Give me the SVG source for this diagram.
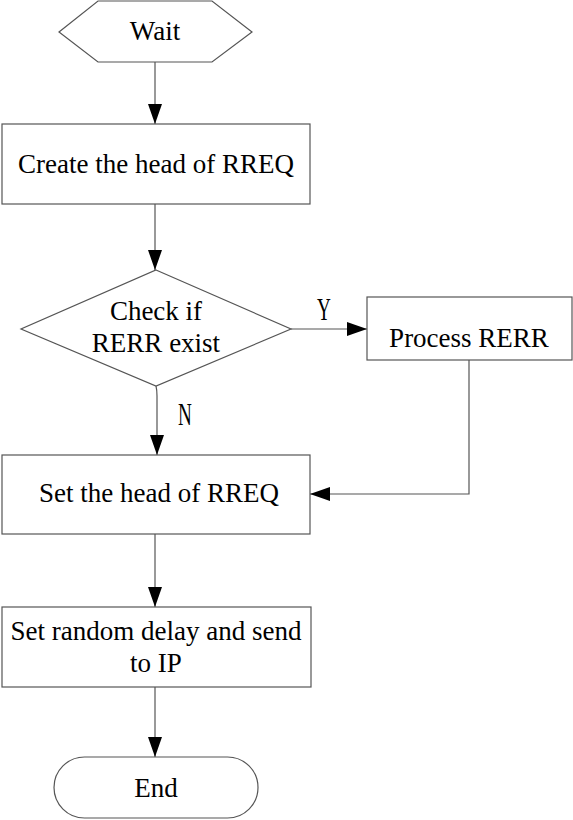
<svg xmlns="http://www.w3.org/2000/svg" width="573" height="820" viewBox="0 0 573 820">
<style>
.shape{fill:#fff;stroke:#555;stroke-width:1.2}
.conn{fill:none;stroke:#555;stroke-width:1.2}
.t{font-family:"Liberation Serif","Times New Roman",serif;font-size:27px;fill:#000;text-anchor:middle}
.lbl{font-family:"Liberation Serif","Times New Roman",serif;font-size:32px;fill:#000;text-anchor:middle}
</style>
<defs>
<marker id="ah" markerUnits="userSpaceOnUse" markerWidth="20" markerHeight="14" refX="20" refY="7" orient="auto">
<path d="M0,0 L20,7 L0,14 z" fill="#000"/>
</marker>
</defs>
<rect width="573" height="820" fill="#fff"/>
<g id="connectors">
<line class="conn" x1="155" y1="62" x2="155" y2="124" marker-end="url(#ah)"/>
<line class="conn" x1="155" y1="204" x2="155" y2="270" marker-end="url(#ah)"/>
<line class="conn" x1="291" y1="329" x2="367" y2="329" marker-end="url(#ah)"/>
<path class="conn" d="M156,386 Q157,390 157,396 L157,455" marker-end="url(#ah)"/>
<path class="conn" d="M469,360 L469,494 L310,494" marker-end="url(#ah)"/>
<line class="conn" x1="155" y1="534" x2="155" y2="607" marker-end="url(#ah)"/>
<line class="conn" x1="155" y1="687" x2="155" y2="757" marker-end="url(#ah)"/>
<text class="lbl" transform="translate(324,320) scale(0.6,1)">Y</text>
<text class="lbl" transform="translate(185,425) scale(0.6,1)">N</text>
</g>
<g id="wait">
<polygon class="shape" points="59,32 98,1 212,1 252,32 212,62 98,62"/>
<text class="t" x="155" y="40">Wait</text>
</g>
<g id="create">
<rect class="shape" x="2" y="124" width="308" height="80"/>
<text class="t" x="156" y="173">Create the head of RREQ</text>
</g>
<g id="check">
<polygon class="shape" points="156,270 291,329 156,386 21,329"/>
<text class="t" x="156" y="320">Check if</text>
<text class="t" x="156" y="352">RERR exist</text>
</g>
<g id="process">
<rect class="shape" x="367" y="297" width="205" height="63"/>
<text class="t" x="469" y="347">Process RERR</text>
</g>
<g id="sethead">
<rect class="shape" x="2" y="455" width="308" height="79"/>
<text class="t" x="159" y="502">Set the head of RREQ</text>
</g>
<g id="delay">
<rect class="shape" x="2" y="607" width="309" height="80"/>
<text class="t" x="156" y="640">Set random delay and send</text>
<text class="t" x="156" y="672">to IP</text>
</g>
<g id="end">
<rect class="shape" x="54" y="757" width="204" height="61" rx="30.5" ry="30.5"/>
<text class="t" x="156" y="797">End</text>
</g>
</svg>
